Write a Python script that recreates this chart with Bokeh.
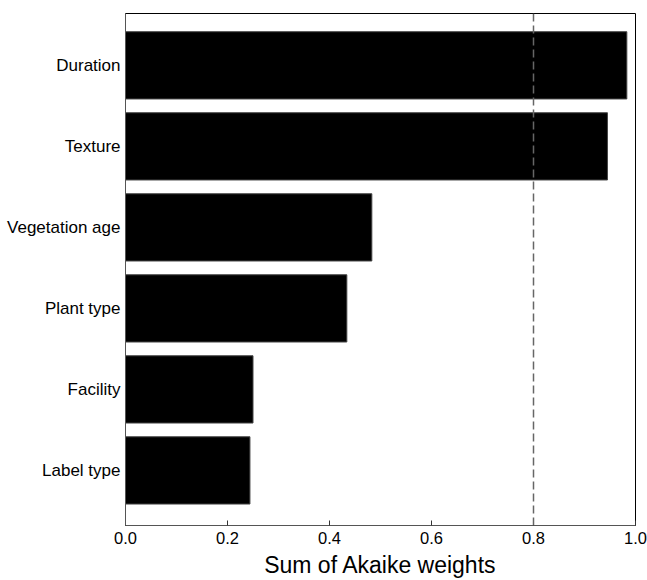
from bokeh.plotting import figure
from bokeh.models import ColumnDataSource, Span, FixedTicker, Range1d
from bokeh.embed import file_html
from bokeh.resources import INLINE

categories = ["Label type", "Facility", "Plant type", "Vegetation age", "Texture", "Duration"]
weights = [0.244, 0.250, 0.434, 0.483, 0.945, 0.983]
x_ticks = [0.0, 0.2, 0.4, 0.6, 0.8, 1.0]
x_tick_labels = ["0.0", "0.2", "0.4", "0.6", "0.8", "1.0"]
threshold = 0.8

ypos = list(range(len(categories)))
src = ColumnDataSource(dict(y=ypos, w=weights, cat=categories))

p = figure(width=647, height=580, output_backend="svg", toolbar_location=None,
           x_range=Range1d(0, 1.0), y_range=Range1d(-0.68, 5.64),
           min_border_left=125, min_border_right=12, min_border_top=13, min_border_bottom=53)
p.hbar(y="y", right="w", left=0, height=0.83, source=src, fill_color="black",
       line_color="#444444", line_width=1)
p.add_layout(Span(location=threshold, dimension="height", line_color="#666666",
                  line_dash="8 4", line_width=1.5))

p.xgrid.visible = False
p.ygrid.visible = False
p.outline_line_color = "black"
p.outline_line_width = 1

p.xaxis.ticker = FixedTicker(ticks=x_ticks)
p.xaxis.major_label_overrides = {t: l for t, l in zip(x_ticks, x_tick_labels)}
p.xaxis.major_tick_in = 5
p.xaxis.major_tick_out = 0
p.xaxis.minor_tick_line_color = None
p.xaxis.axis_line_color = "#555555"
p.xaxis.major_tick_line_color = "#333333"
p.xaxis.major_label_text_font = "Liberation Sans"
p.xaxis.major_label_text_font_size = "16.5px"
p.xaxis.major_label_text_color = "black"
p.xaxis.major_label_standoff = 6
p.xaxis.axis_label = "Sum of Akaike weights"
p.xaxis.axis_label_text_font = "Liberation Sans"
p.xaxis.axis_label_text_font_size = "23px"
p.xaxis.axis_label_text_font_style = "normal"
p.xaxis.axis_label_text_color = "black"
p.xaxis.axis_label_standoff = 5

p.yaxis.ticker = FixedTicker(ticks=ypos)
p.yaxis.major_label_overrides = {i: c for i, c in zip(ypos, categories)}
p.yaxis.major_tick_in = 0
p.yaxis.major_tick_out = 0
p.yaxis.minor_tick_line_color = None
p.yaxis.axis_line_color = "#555555"
p.yaxis.major_label_text_font = "Liberation Sans"
p.yaxis.major_label_text_font_size = "17px"
p.yaxis.major_label_text_color = "black"
p.yaxis.major_label_standoff = 5

open("out.html", "w").write(file_html(p, INLINE))
